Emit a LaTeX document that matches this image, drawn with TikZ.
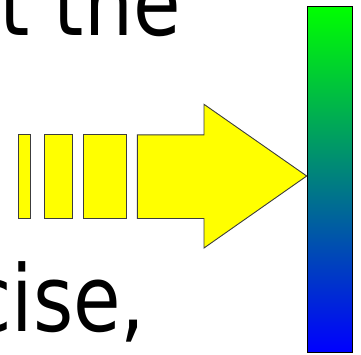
\documentclass[tikz,border=0pt]{standalone}
\usepackage{fontspec}
\setmainfont{DejaVu Sans}[FakeStretch=0.84]
\usepackage{tikz}
\usetikzlibrary{positioning}
\definecolor{arrowyellow}{RGB}{255,255,0}
\definecolor{edgegray}{RGB}{60,60,60}
\definecolor{scalegreen}{RGB}{0,255,0}
\definecolor{scaleblue}{RGB}{0,0,255}

\begin{document}
\begin{tikzpicture}[x=1pt,y=-1pt,
  slidetext/.style={anchor=base west,inner sep=0pt,font=\fontsize{92}{92}\selectfont},
  barpiece/.style={fill=arrowyellow,draw=edgegray,line width=0.9pt,line join=miter}]
  \useasboundingbox (0,0) rectangle (361,354);
  \clip (0,0) rectangle (361,354);
  \node[slidetext] (topline) at (-1,35) {t the};
  \node[slidetext] (bottomline) at (-31,331) {cise,};
  \foreach \xa/\xb in {18.3/30,44.3/72.3,83.3/126} {
    \draw[barpiece] (\xa,134) rectangle (\xb,218.5);
  }
  \node[draw=black,line width=0.9pt,top color=scalegreen,bottom color=scaleblue,
    minimum width=45.6pt,minimum height=345.5pt,inner sep=0pt,anchor=north west]
    (scalebar) at (306.7,6) {};
  \coordinate (tip) at (306.7,176);
  \draw[barpiece] (137.3,134.8) -- (204,134.8) -- (204,104.3) -- (tip)
    -- (204,248) -- (204,218.5) -- (137.3,218.5) -- cycle;
\end{tikzpicture}
\end{document}
